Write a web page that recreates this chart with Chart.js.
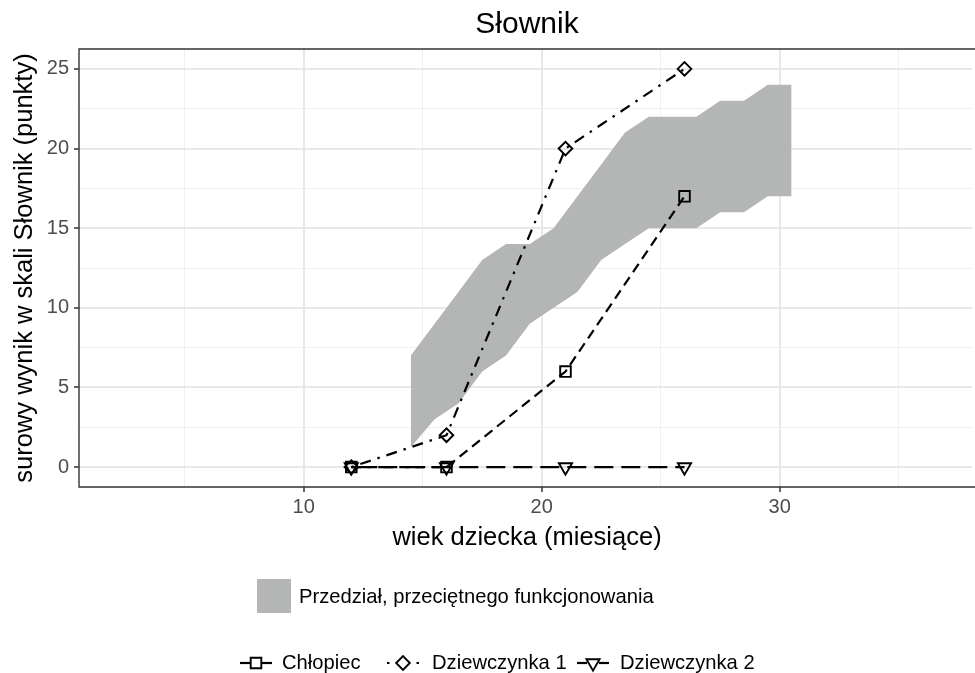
<!DOCTYPE html>
<html><head><meta charset="utf-8">
<script src="https://cdn.jsdelivr.net/npm/chart.js@4/dist/chart.umd.min.js"></script>
<style>html,body{margin:0;padding:0;background:#fff;overflow:hidden;} canvas{display:block}</style>
</head><body>
<canvas id="c" width="975" height="673"></canvas>
<script>
// ---- data ----
const ages = [12, 16, 21, 26];
const chlopiec = [0, 0, 6, 17];
const dziewczynka1 = [0, 2, 20, 25];
const dziewczynka2 = [0, 0, 0, 0];
const bandAges = [14.5, 15.5, 16.5, 17.5, 18.5, 19.5, 20.5, 21.5, 22.5, 23.5, 24.5, 25.5, 26.5, 27.5, 28.5, 29.5, 30.5];
const bandUpper = [7, 9, 11, 13, 14, 14, 15, 17, 19, 21, 22, 22, 22, 23, 23, 24, 24];
const bandLower = [1.25, 3, 4, 6, 7, 9, 10, 11, 13, 14, 15, 15, 15, 16, 16, 17, 17];
const xMajorTicks = [10, 20, 30];
const xMinorTicks = [5, 15, 25, 35];
const yMajorTicks = [0, 5, 10, 15, 20, 25];
const yMinorTicks = [2.5, 7.5, 12.5, 17.5, 22.5];
const seriesNames = ['Chłopiec', 'Dziewczynka 1', 'Dziewczynka 2'];
const bandName = 'Przedział, przeciętnego funkcjonowania';
const titleText = 'Słownik';
const xTitle = 'wiek dziecka (miesiące)';
const yTitle = 'surowy wynik w skali Słownik (punkty)';

// ---- style ----
const FONT = "'Liberation Sans', Arial, sans-serif";
const BAND = '#b4b6b6';
const pts = (xs, ys) => xs.map((x, i) => ({x: x, y: ys[i]}));

function seriesDs(name, ys, dash, style, radius, rot, order) {
  return {
    label: name, data: pts(ages, ys), borderColor: '#000', borderWidth: 2.2,
    borderDash: dash, fill: false, tension: 0,
    pointStyle: style, pointRadius: radius, pointRotation: rot,
    pointBorderColor: '#000', pointBackgroundColor: 'rgba(0,0,0,0)',
    pointBorderWidth: 1.9, order: order, isSeries: true
  };
}

const datasets = [
  {label: bandName, data: pts(bandAges, bandUpper), fill: '+1', backgroundColor: BAND,
   borderColor: 'rgba(0,0,0,0)', borderWidth: 0, pointRadius: 0, tension: 0, order: 10},
  {label: bandName + ' (dolna granica)', data: pts(bandAges, bandLower), fill: false,
   borderColor: 'rgba(0,0,0,0)', borderWidth: 0, pointRadius: 0, tension: 0, order: 11},
  seriesDs(seriesNames[0], chlopiec, [10, 6], 'rect', 7.5, 0, 3),
  seriesDs(seriesNames[1], dziewczynka1, [2.5, 7, 11, 7], 'rectRot', 6.8, 0, 2),
  seriesDs(seriesNames[2], dziewczynka2, [19, 8], 'triangle', 7.6, 180, 1)
];

const isMajorX = v => xMajorTicks.includes(v);
const isMajorY = v => yMajorTicks.includes(v);

const decor = {
  id: 'decor',
  afterDraw(chart) {
    const ctx = chart.ctx;
    const a = chart.chartArea;
    ctx.save();
    // keep the far right edge of the panel open (panel continues past the picture)
    ctx.fillStyle = '#ffffff';
    ctx.fillRect(chart.width - 3, a.top + 1, 3, a.bottom - a.top - 2);
    // panel border (left, top, bottom; right edge lies outside the picture)
    ctx.strokeStyle = '#333333';
    ctx.lineWidth = 1.4;
    ctx.beginPath();
    ctx.moveTo(chart.width + 5, a.top);
    ctx.lineTo(a.left, a.top);
    ctx.lineTo(a.left, a.bottom);
    ctx.lineTo(chart.width + 5, a.bottom);
    ctx.stroke();
    // title
    ctx.fillStyle = '#000';
    ctx.textAlign = 'center';
    ctx.textBaseline = 'alphabetic';
    ctx.font = '30px ' + FONT;
    ctx.fillText(titleText, (a.left + a.right) / 2, 33);
    // x title
    ctx.font = '25.5px ' + FONT;
    ctx.fillText(xTitle, (a.left + a.right) / 2, 545);
    // y title
    ctx.save();
    ctx.translate(32, (a.top + a.bottom) / 2);
    ctx.rotate(-Math.PI / 2);
    ctx.fillText(yTitle, 0, 0);
    ctx.restore();
    // band legend
    ctx.fillStyle = BAND;
    ctx.fillRect(257, 579, 34, 34);
    ctx.fillStyle = '#000';
    ctx.font = '20.2px ' + FONT;
    ctx.textAlign = 'left';
    ctx.textBaseline = 'middle';
    ctx.fillText(datasets[0].label, 299, 597);
    // series legend
    const keyCenters = [256, 403, 593];
    const textX = [282, 432, 620];
    const rowY = 663;
    const half = 16;
    chart.data.datasets.filter(d => d.isSeries).forEach((d, i) => {
      const cx = keyCenters[i];
      const gap = 6;
      ctx.strokeStyle = '#000';
      ctx.lineWidth = d.borderWidth;
      ctx.setLineDash(d.borderDash);
      ctx.beginPath();
      ctx.moveTo(cx - half, rowY); ctx.lineTo(cx - gap, rowY);
      ctx.stroke();
      ctx.beginPath();
      ctx.moveTo(cx + half, rowY); ctx.lineTo(cx + gap, rowY);
      ctx.stroke();
      ctx.setLineDash([]);
      ctx.fillStyle = 'rgba(0,0,0,0)';
      ctx.lineWidth = d.pointBorderWidth;
      Chart.helpers.drawPoint(ctx, {pointStyle: d.pointStyle, radius: d.pointRadius,
        borderWidth: d.pointBorderWidth, rotation: d.pointRotation}, cx, rowY);
      ctx.fillStyle = '#000';
      ctx.fillText(d.label, textX[i], rowY);
    });
    ctx.restore();
  }
};

new Chart(document.getElementById('c'), {
  type: 'line',
  data: {datasets: datasets},
  plugins: [decor],
  options: {
    responsive: false, animation: false, devicePixelRatio: 1,
    layout: {autoPadding: false, padding: {top: 49, bottom: 146, left: 0, right: 0}},
    plugins: {legend: {display: false}, tooltip: {enabled: false}, title: {display: false}},
    scales: {
      x: {
        type: 'linear', min: 0.559, max: 38.206,
        afterBuildTicks: s => { s.ticks = xMinorTicks.concat(xMajorTicks).sort((p, q) => p - q).map(v => ({value: v})); },
        afterFit: s => { s.height = 40; s.paddingLeft = 0; s.paddingRight = 0; },
        ticks: {autoSkip: false, maxRotation: 0, padding: 3, color: '#4d4d4d',
          font: {family: FONT, size: 20},
          callback: v => isMajorX(v) ? String(v) : ''},
        grid: {
          color: c => (c.tick && isMajorX(c.tick.value)) ? '#e8e8e8' : '#efefef',
          lineWidth: c => (c.tick && isMajorX(c.tick.value)) ? 2 : 1,
          tickColor: c => (c.tick && isMajorX(c.tick.value)) ? '#333333' : 'rgba(0,0,0,0)',
          tickLength: 5, tickWidth: 1.5, drawTicks: true
        },
        border: {display: false}
      },
      y: {
        type: 'linear', min: -1.25, max: 26.25,
        afterBuildTicks: s => { s.ticks = yMinorTicks.concat(yMajorTicks).sort((p, q) => p - q).map(v => ({value: v})); },
        afterFit: s => { s.width = 79; s.paddingTop = 0; s.paddingBottom = 0; },
        ticks: {autoSkip: false, padding: 5, color: '#4d4d4d',
          font: {family: FONT, size: 20},
          callback: v => isMajorY(v) ? String(v) : ''},
        grid: {
          color: c => (c.tick && isMajorY(c.tick.value)) ? '#e8e8e8' : '#efefef',
          lineWidth: c => (c.tick && isMajorY(c.tick.value)) ? 2 : 1,
          tickColor: c => (c.tick && isMajorY(c.tick.value)) ? '#333333' : 'rgba(0,0,0,0)',
          tickLength: 5, tickWidth: 1.5, drawTicks: true
        },
        border: {display: false}
      }
    }
  }
});
</script>
</body></html>
